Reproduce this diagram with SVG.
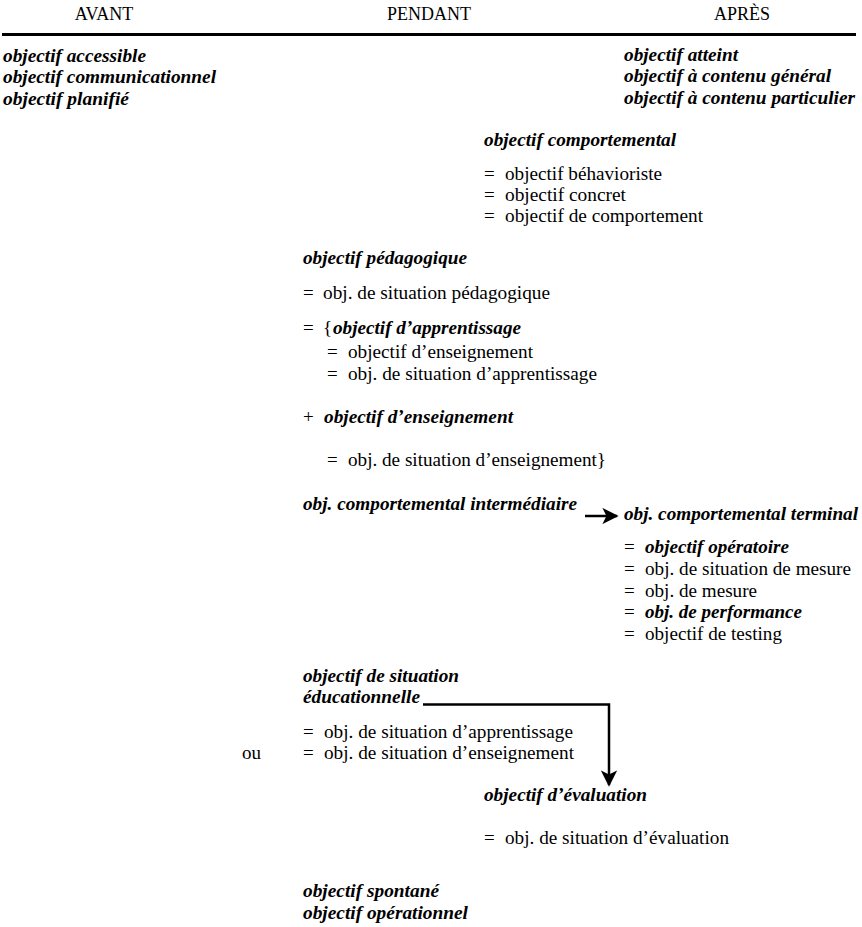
<svg xmlns="http://www.w3.org/2000/svg" width="862" height="927" viewBox="0 0 862 927">
<style>
text{font-family:'Liberation Serif','Times New Roman',serif;font-size:19px;fill:#000}
.hd{font-size:18px}
.b{font-weight:bold;font-style:italic;font-size:18px}
.c{fill:none;stroke:#000;stroke-width:2.5}
</style>
<defs>
<marker id="ah" viewBox="0 0 10 10" refX="9" refY="5" markerWidth="6.5" markerHeight="6.5" orient="auto" markerUnits="strokeWidth">
<path d="M0,0 L10,5 L0,10 L2.5,5 Z" fill="#000"/>
</marker>
</defs>
<rect width="862" height="927" fill="#fff"/>
<g id="header">
<text class="hd" x="104" y="20" text-anchor="middle">AVANT</text>
<text class="hd" x="429" y="20" text-anchor="middle">PENDANT</text>
<text class="hd" x="742" y="20" text-anchor="middle">APRÈS</text>
<line x1="2" y1="34.5" x2="856" y2="34.5" stroke="#000" stroke-width="3"/>
</g>
<g id="avant">
<text class="b" x="3" y="62" textLength="143" lengthAdjust="spacingAndGlyphs">objectif accessible</text>
<text class="b" x="3" y="83" textLength="213" lengthAdjust="spacingAndGlyphs">objectif communicationnel</text>
<text class="b" x="3" y="105" textLength="126" lengthAdjust="spacingAndGlyphs">objectif planifié</text>
</g>
<g id="apres">
<text class="b" x="624" y="61" textLength="114" lengthAdjust="spacingAndGlyphs">objectif atteint</text>
<text class="b" x="624" y="82" textLength="207" lengthAdjust="spacingAndGlyphs">objectif à contenu général</text>
<text class="b" x="624" y="104" textLength="231" lengthAdjust="spacingAndGlyphs">objectif à contenu particulier</text>
</g>
<g id="comportemental">
<text class="b" x="484" y="146" textLength="192" lengthAdjust="spacingAndGlyphs">objectif comportemental</text>
<text x="484" y="180">=</text><text x="505" y="180" textLength="157" lengthAdjust="spacingAndGlyphs">objectif béhavioriste</text>
<text x="484" y="201">=</text><text x="505" y="201" textLength="121" lengthAdjust="spacingAndGlyphs">objectif concret</text>
<text x="484" y="222">=</text><text x="505" y="222" textLength="198" lengthAdjust="spacingAndGlyphs">objectif de comportement</text>
</g>
<g id="pedagogique">
<text class="b" x="303" y="264" textLength="164" lengthAdjust="spacingAndGlyphs">objectif pédagogique</text>
<text x="303" y="299">=</text><text x="323" y="299" textLength="227" lengthAdjust="spacingAndGlyphs">obj. de situation pédagogique</text>
<text x="303" y="334">=</text><text x="323" y="334">{</text><text class="b" x="333" y="334" textLength="188" lengthAdjust="spacingAndGlyphs">objectif d’apprentissage</text>
<text x="327" y="358">=</text><text x="348" y="358" textLength="185" lengthAdjust="spacingAndGlyphs">objectif d’enseignement</text>
<text x="327" y="380">=</text><text x="348" y="380" textLength="249" lengthAdjust="spacingAndGlyphs">obj. de situation d’apprentissage</text>
<text x="303" y="423">+</text><text class="b" x="324" y="423" textLength="189" lengthAdjust="spacingAndGlyphs">objectif d’enseignement</text>
<text x="327" y="466">=</text><text x="348" y="466" textLength="258" lengthAdjust="spacingAndGlyphs">obj. de situation d’enseignement}</text>
</g>
<g id="intermediaire">
<text class="b" x="303" y="510" textLength="274" lengthAdjust="spacingAndGlyphs">obj. comportemental intermédiaire</text>
</g>
<g id="terminal">
<text class="b" x="624" y="520" textLength="234" lengthAdjust="spacingAndGlyphs">obj. comportemental terminal</text>
<text x="624" y="553">=</text><text class="b" x="645" y="553" textLength="144" lengthAdjust="spacingAndGlyphs">objectif opératoire</text>
<text x="624" y="575">=</text><text x="645" y="575" textLength="206" lengthAdjust="spacingAndGlyphs">obj. de situation de mesure</text>
<text x="624" y="597">=</text><text x="645" y="597" textLength="112" lengthAdjust="spacingAndGlyphs">obj. de mesure</text>
<text x="624" y="618">=</text><text class="b" x="645" y="618" textLength="157" lengthAdjust="spacingAndGlyphs">obj. de performance</text>
<text x="624" y="640">=</text><text x="645" y="640" textLength="137" lengthAdjust="spacingAndGlyphs">objectif de testing</text>
</g>
<g id="educationnelle">
<text class="b" x="303" y="682" textLength="156" lengthAdjust="spacingAndGlyphs">objectif de situation</text>
<text class="b" x="303" y="703" textLength="117" lengthAdjust="spacingAndGlyphs">éducationnelle</text>
<text x="303" y="738">=</text><text x="324" y="738" textLength="249" lengthAdjust="spacingAndGlyphs">obj. de situation d’apprentissage</text>
<text x="242" y="759">ou</text>
<text x="303" y="759">=</text><text x="324" y="759" textLength="250" lengthAdjust="spacingAndGlyphs">obj. de situation d’enseignement</text>
</g>
<g id="evaluation">
<text class="b" x="484" y="801" textLength="163" lengthAdjust="spacingAndGlyphs">objectif d’évaluation</text>
<text x="484" y="844">=</text><text x="505" y="844" textLength="224" lengthAdjust="spacingAndGlyphs">obj. de situation d’évaluation</text>
</g>
<g id="autres">
<text class="b" x="303" y="897" textLength="136" lengthAdjust="spacingAndGlyphs">objectif spontané</text>
<text class="b" x="303" y="919" textLength="165" lengthAdjust="spacingAndGlyphs">objectif opérationnel</text>
</g>
<g id="connectors">
<path class="c" d="M585,516 L617,516" marker-end="url(#ah)"/>
<path class="c" d="M423,704.5 L609,704.5 L609,785" marker-end="url(#ah)"/>
</g>
</svg>
